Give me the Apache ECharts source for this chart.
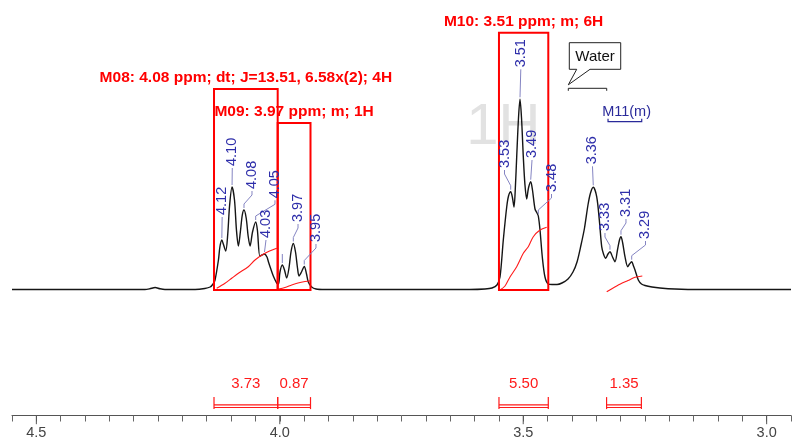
<!DOCTYPE html>
<html><head><meta charset="utf-8">
<script src="https://cdn.jsdelivr.net/npm/echarts@6/dist/echarts.min.js"></script>
<style>html,body{margin:0;padding:0;background:#fff}#c{width:793px;height:440px}</style>
</head><body><div id="c"></div>
<script>
// ---------- data (ppm on x, intensity on y, baseline = 0) ----------
const spectrumPpm = [4.550,4.277,4.267,4.256,4.246,4.236,4.174,4.154,4.143,4.137,4.133,4.126,4.123,4.119,4.116,4.111,4.107,4.103,4.098,4.093,4.089,4.085,4.081,4.077,4.0735,4.069,4.065,4.061,4.056,4.0495,4.046,4.041,4.0365,4.0314,4.0263,4.0232,4.0191,4.0133,4.0063,4.0026,3.9996,3.9948,3.9903,3.9858,3.9811,3.9770,3.9722,3.9677,3.9636,3.9605,3.9554,3.9497,3.9451,3.9414,3.9345,3.9256,3.9071,3.6093,3.5785,3.5641,3.5539,3.5477,3.5409,3.5339,3.5302,3.5257,3.5220,3.5189,3.5159,3.5134,3.5097,3.5066,3.5035,3.4998,3.4964,3.4929,3.4892,3.4846,3.4810,3.4758,3.4717,3.4690,3.4655,3.4608,3.4553,3.4485,3.4409,3.4306,3.4204,3.4080,3.3978,3.3895,3.3813,3.3741,3.3670,3.3618,3.3561,3.3491,3.3437,3.3388,3.3351,3.3306,3.3259,3.3218,3.3166,3.3115,3.3064,3.3023,3.2992,3.2957,3.2910,3.2854,3.2817,3.2772,3.2735,3.2704,3.2636,3.2571,3.2499,3.2355,3.2191,3.1883,3.1369,2.950];
const spectrumInt = [0.5,0.5,1.2,2.5,1.2,0.5,0.5,1.5,3,6,10,30,43,50,46,39,55,85,103,90,60,44,58,75,80,72,54,44,58,68,60,34,35,36,33,28,22,14,7,6,18,25,20,12,22,38,46.5,38,22,14,18,23.5,16,8,3,1,0.5,0.5,1,2,5,13,50,83,94,98.3,92,83,105,133,172,190.7,172,133,105,91,102,108.3,100,81,77,74,60,33,13,6,5.5,5.5,7,11,18,28,45,62,85,97,102.7,93.3,70,43.3,36,31.7,36,38.3,33,28.3,40,50,53.3,47,33.3,23.3,26,28.3,24,20,10,6,4.5,3,2,1,0.5,0.5];

// integral curves
const integ08Ppm = [4.1296,4.1125,4.0981,4.085,4.0647,4.0509,4.0304,4.0063];
const integ08Val = [1.7,6.7,12,16.7,23.3,30,36.7,41.7];
const integ09Ppm = [4.0026,3.9893,3.9755,3.9626,3.9482,3.9359];
const integ09Val = [1,2.5,5,7,8.5,9.3];
const integ10Ppm = [3.5477,3.5374,3.5272,3.5134,3.4998,3.4896,3.4793,3.4655,3.4518];
const integ10Val = [0,4,13,23.3,36.7,43.3,53.3,60,62.7];
const integ11Ppm = [3.3285,3.3136,3.2977,3.2848,3.2704,3.2554];
const integ11Val = [-1.7,2.5,6.7,9.5,12.7,14];

// multiplet boxes
const multipletTitles = ['M08: 4.08 ppm; dt; J=13.51, 6.58x(2); 4H','M09: 3.97 ppm; m; 1H','M10: 3.51 ppm; m; 6H'];
const multipletFrom = [4.1351,4.0043,3.5498];
const multipletTo = [4.0043,3.9369,3.4485];
const multipletTop = [201,167,257.3];

// integration regions
const integralFrom = [4.1351,4.0043,3.5498,3.3288];
const integralTo = [4.0043,3.9369,3.4485,3.2573];
const integralValues = ['3.73','0.87','5.50','1.35'];

// peak picking labels
const peakLabels = ['4.12','4.10','4.08','4.05','4.03','','3.97','3.95','3.53','3.51','3.49','3.48','3.36','3.33','3.31','3.29'];
const peakPpm = [4.119,4.098,4.0735,4.0495,4.0314,3.9948,3.9722,3.9497,3.5257,3.5066,3.4846,3.4690,3.3561,3.3218,3.2992,3.2772];
const peakHeight = [50,103,80,68,36,25,46.5,23.5,98.3,190.7,108.3,74,102.7,38.3,53.3,28.3];

// water region and M11 range
const waterRange = [3.4074,3.3285];
const waterLevel = 201.7;
const m11Range = [3.3258,3.2566];
const m11Level = 168.3;

// axis tick labels
const majorTicks = [4.5,4.0,3.5,3.0];

// ---------- layout (pixel offsets, styles) ----------
const FONT = '"Liberation Sans", Arial, Helvetica, sans-serif';
const RED = '#ff1a1a';
const BLUE = '#2e2eaa';
const LEADER = '#8484c2';
// label offsets [dx, dy] of text start relative to peak top (px)
const peakLabelOffsets = [[0.3,-25],[0.2,-21],[8,-21],[19.3,-23.7],[1.5,-16],[0,-13],[4.7,-21.5],[11.7,-24.5],[-6.2,-23.7],[0.8,-32],[1.3,-23.7],[13.2,-24],[-0.8,-23],[-5,-20.7],[5,-19.7],[13.8,-22.7]];
const Y_MIN = -125.5, Y_MAX = 290;

const chart = echarts.init(document.getElementById('c'), null, {renderer:'canvas'});

const zip = (a,b) => a.map((v,i)=>[v,b[i]]);
const integralSeries = [[integ08Ppm,integ08Val],[integ09Ppm,integ09Val],[integ10Ppm,integ10Val],[integ11Ppm,integ11Val]].map(p => ({
  type:'line', data: zip(p[0],p[1]), showSymbol:false, smooth:0.3, z:4,
  lineStyle:{color:RED, width:1.1}, silent:true, animation:false
}));

const option = {
  animation:false,
  grid:{left:12, right:2, top:0, bottom:24.5, containLabel:false, outerBoundsMode:'none'},
  graphic:[{type:'text', x:503.3, y:127.5, z:-10, silent:true,
    style:{text:'1H', font:'58px '+FONT, fill:'#e2e2e2', align:'center', verticalAlign:'middle'}}],
  xAxis:{type:'value', min:2.95, max:4.55, inverse:true, interval:0.05,
    axisLine:{onZero:false, lineStyle:{color:'#555', width:1}},
    axisTick:{length:6, lineStyle:{color:'#666', width:1}},
    axisLabel:{color:'#444', fontSize:14.5, fontFamily:'Liberation Sans', margin:10,
      formatter: v => (Math.abs(v*2 - Math.round(v*2)) < 1e-6) ? v.toFixed(1) : ''},
    splitLine:{show:false}},
  yAxis:{type:'value', min:Y_MIN, max:Y_MAX, show:false},
  series:[
    {type:'line', data: zip(spectrumPpm, spectrumInt), showSymbol:false, smooth:0.3, z:3,
      lineStyle:{color:'#151515', width:1.4}, silent:true},
    ...integralSeries,
    // multiplet boxes + titles
    {type:'custom', z:5, silent:true,
      data: multipletFrom.map((v,i)=>[v, multipletTo[i], multipletTop[i], i]),
      encode:{x:[0,1], y:2},
      renderItem(params, api){
        const i = api.value(3);
        const a = api.coord([api.value(0), api.value(2)]);
        const b = api.coord([api.value(1), 0]);
        const x0 = Math.min(a[0],b[0]), w = Math.abs(b[0]-a[0]);
        return {type:'group', children:[
          {type:'rect', shape:{x:x0, y:a[1], width:w, height:b[1]-a[1]}, style:{stroke:'#ff0000', fill:null, lineWidth:2}},
          {type:'text', x:x0+w/2, y:a[1]-11, style:{text:multipletTitles[i], fill:'#ff0000', font:'bold 15.5px '+FONT, align:'center', verticalAlign:'middle'}}
        ]};
      }},
    // integration brackets
    {type:'custom', z:5, silent:true,
      data: integralFrom.map((v,i)=>[v, integralTo[i], i]),
      encode:{x:[0,1]},
      renderItem(params, api){
        const i = api.value(2);
        const base = api.coord([api.value(0), Y_MIN])[1];
        const x1 = api.coord([api.value(0), 0])[0], x2 = api.coord([api.value(1), 0])[0];
        const st = {stroke:RED, lineWidth:1.2, fill:null};
        return {type:'group', children:[
          {type:'line', shape:{x1:x1, y1:base-18.4, x2:x1, y2:base-6.4}, style:st},
          {type:'line', shape:{x1:x2, y1:base-18.4, x2:x2, y2:base-6.4}, style:st},
          {type:'line', shape:{x1:x1, y1:base-10.7, x2:x2, y2:base-10.7}, style:st},
          {type:'line', shape:{x1:x1, y1:base-8, x2:x2, y2:base-8}, style:st},
          {type:'text', x:(x1+x2)/2, y:base-31.5, style:{text:integralValues[i], fill:RED, font:'15px '+FONT, align:'center', verticalAlign:'middle'}}
        ]};
      }},
    // peak labels with leaders
    {type:'custom', z:6, silent:true,
      data: peakPpm.map((v,i)=>[v, peakHeight[i], i]),
      encode:{x:0, y:1},
      renderItem(params, api){
        const i = api.value(2);
        const p = api.coord([api.value(0), api.value(1)]);
        const off = peakLabelOffsets[i];
        const tx = p[0]+off[0], tb = p[1]+off[1];
        const pts = [[tx, tb+2]];
        if (Math.abs(tx-p[0]) > 1.6) { pts.push([tx, tb+6]); pts.push([p[0], p[1]-6]); }
        pts.push([p[0], p[1]-2]);
        const ch = [{type:'polyline', shape:{points:pts}, style:{stroke:LEADER, fill:null, lineWidth:1}}];
        if (peakLabels[i]) ch.push({type:'text', x:tx, y:tb, rotation:Math.PI/2,
          style:{text:peakLabels[i], fill:BLUE, font:'14.5px '+FONT, align:'left', verticalAlign:'middle'}});
        return {type:'group', children:ch};
      }},
    // Water annotation
    {type:'custom', z:6, silent:true,
      data:[[waterRange[0], waterRange[1], waterLevel]],
      encode:{x:[0,1], y:2},
      renderItem(params, api){
        const l = api.coord([api.value(0), api.value(2)]);
        const r = api.coord([api.value(1), api.value(2)]);
        const y = l[1], bx = l[0]+1, top = y-45.6, bot = y-19, bw = 51.4;
        return {type:'group', children:[
          {type:'polyline', shape:{points:[[l[0],y+2.5],[l[0],y],[r[0],y],[r[0],y+2.5]]}, style:{stroke:'#222', fill:null, lineWidth:1}},
          {type:'polygon', shape:{points:[[bx,top],[bx+bw,top],[bx+bw,bot],[bx+20.7,bot],[l[0],y-3.5],[bx+7.4,bot],[bx,bot]]}, style:{stroke:'#222', fill:'#fff', lineWidth:1}},
          {type:'text', x:bx+bw/2, y:(top+bot)/2+0.5, style:{text:'Water', fill:'#111', font:'15px '+FONT, align:'center', verticalAlign:'middle'}}
        ]};
      }},
    // M11 annotation
    {type:'custom', z:6, silent:true,
      data:[[m11Range[0], m11Range[1], m11Level]],
      encode:{x:[0,1], y:2},
      renderItem(params, api){
        const l = api.coord([api.value(0), api.value(2)]);
        const r = api.coord([api.value(1), api.value(2)]);
        const y = l[1];
        return {type:'group', children:[
          {type:'polyline', shape:{points:[[l[0],y-3],[l[0],y],[r[0],y],[r[0],y-3]]}, style:{stroke:'#2a2a9a', fill:null, lineWidth:1.2}},
          {type:'text', x:(l[0]+r[0])/2+1.7, y:y-10, style:{text:'M11(m)', fill:'#2a2a9a', font:'14.5px '+FONT, align:'center', verticalAlign:'middle'}}
        ]};
      }},
    // longer ticks at labelled positions
    {type:'custom', z:6, silent:true,
      data: majorTicks.map(v=>[v, Y_MIN]),
      encode:{x:0, y:1},
      renderItem(params, api){
        const p = api.coord([api.value(0), api.value(1)]);
        return {type:'line', shape:{x1:p[0], y1:p[1], x2:p[0], y2:p[1]+8.7}, style:{stroke:'#555', lineWidth:1}};
      }}
  ]
};
chart.setOption(option);
</script></body></html>
